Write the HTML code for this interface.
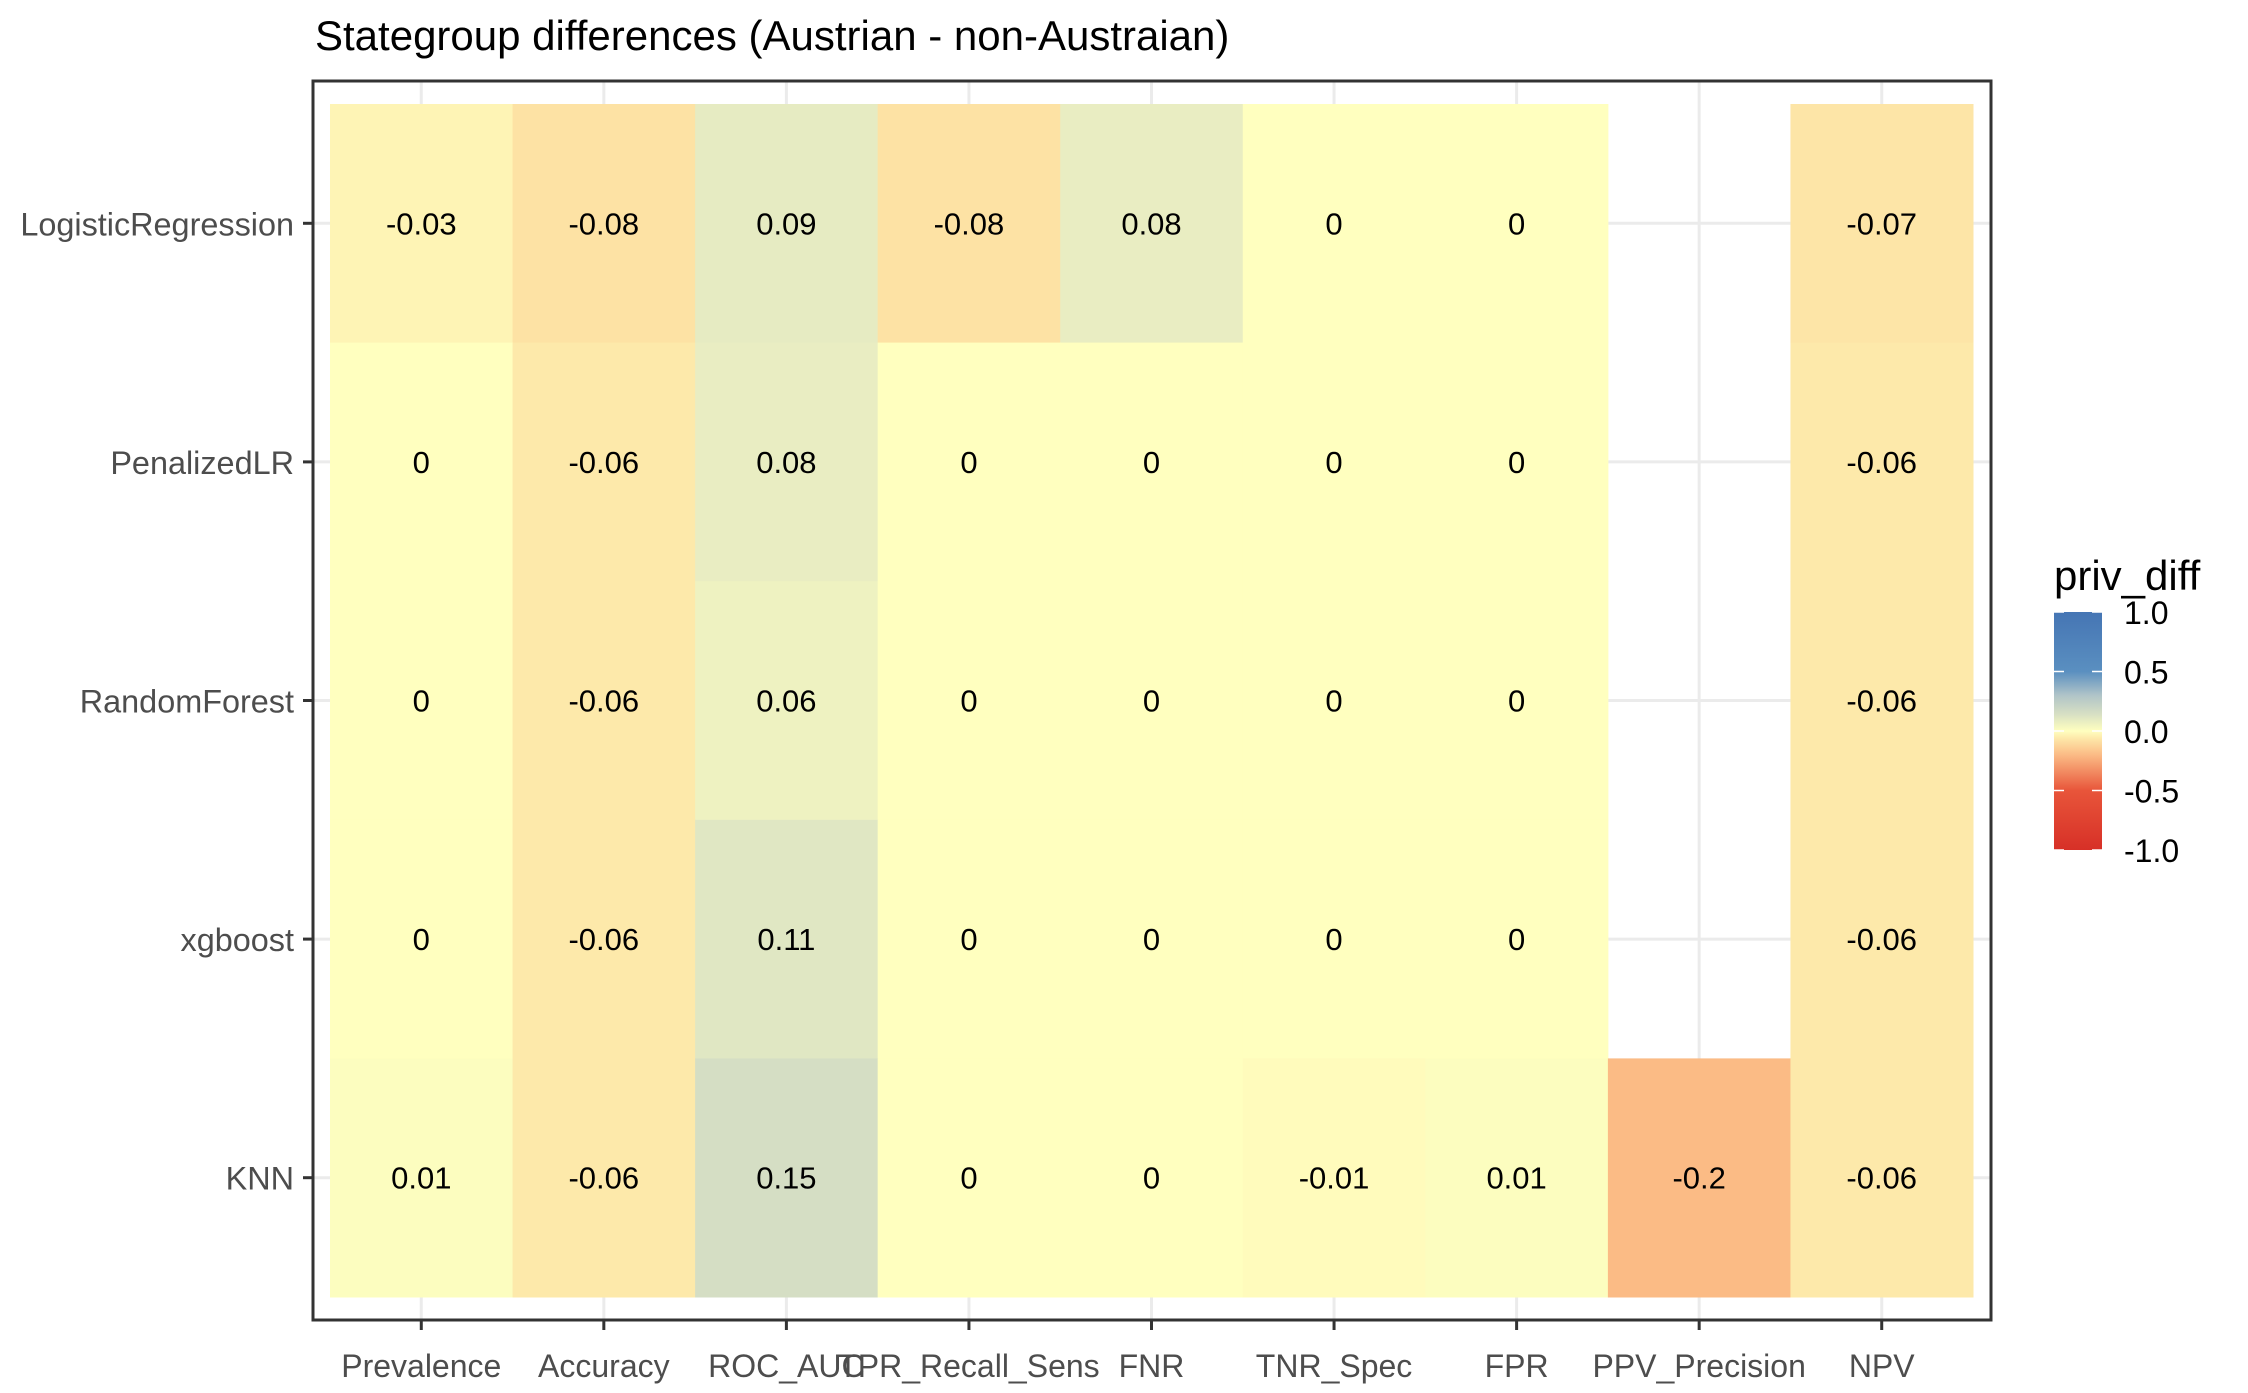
<!DOCTYPE html>
<html><head><meta charset="utf-8"><style>
html,body{margin:0;padding:0;background:#fff}
svg{display:block;font-family:"Liberation Sans",Arial,sans-serif}
</style></head><body>
<svg id="chart" width="2248" height="1393" viewBox="0 0 2248 1393">
<rect width="2248" height="1393" fill="#fff"/>
<text x="315" y="50" font-size="42" fill="#000">Stategroup differences (Austrian - non-Austraian)</text>
<g id="grid"></g><g id="tiles"></g><g id="labels"></g><g id="axes"></g>
<rect x="313" y="81" width="1678" height="1239" fill="none" stroke="#333" stroke-width="3"/>
<defs><linearGradient id="lg" x1="0" y1="1" x2="0" y2="0">
<stop offset="0" stop-color="#d73027"/><stop offset="0.25" stop-color="#e8553a"/><stop offset="0.4" stop-color="#fbbb85"/><stop offset="0.465" stop-color="#fde5a7"/><stop offset="0.5" stop-color="#ffffbf"/><stop offset="0.575" stop-color="#d5dec4"/><stop offset="0.65" stop-color="#b0c4c8"/><stop offset="0.75" stop-color="#5a8fc0"/><stop offset="1" stop-color="#4575b4"/>
</linearGradient></defs>
<g>
<text x="2054" y="590" font-size="42" fill="#000">priv_diff</text>
<rect x="2054" y="612" width="48" height="238" fill="url(#lg)"/>
<g id="legendticks"></g>
</g>
</svg>
<script>
const categories = ["Prevalence","Accuracy","ROC_AUC","TPR_Recall_Sens","FNR","TNR_Spec","FPR","PPV_Precision","NPV"];
const models = ["LogisticRegression","PenalizedLR","RandomForest","xgboost","KNN"];
const rowLR   = [-0.03,-0.08,0.09,-0.08,0.08,0,0,null,-0.07];
const rowPLR  = [0,-0.06,0.08,0,0,0,0,null,-0.06];
const rowRF   = [0,-0.06,0.06,0,0,0,0,null,-0.06];
const rowXGB  = [0,-0.06,0.11,0,0,0,0,null,-0.06];
const rowKNN  = [0.01,-0.06,0.15,0,0,-0.01,0.01,-0.2,-0.06];
const legendTicks = ["1.0","0.5","0.0","-0.5","-1.0"];
const legendTickValues = [1,0.5,0,-0.5,-1];
const rows=[rowLR,rowPLR,rowRF,rowXGB,rowKNN];
const NS="http://www.w3.org/2000/svg";
const X0=330,X1=1973,Y0=104,Y1=1297;
const cw=(X1-X0)/categories.length, ch=(Y1-Y0)/models.length;
const xC=i=>X0+cw*(i+0.5), yC=j=>Y0+ch*(j+0.5);
const stops=[[-1,[215,48,39]],[-0.5,[232,85,58]],[-0.2,[251,187,133]],[-0.07,[253,229,167]],[0,[255,255,191]],[0.15,[213,222,196]],[0.3,[176,196,200]],[0.5,[90,143,192]],[1,[69,117,180]]];
function color(v){for(let k=0;k<stops.length-1;k++){const a=stops[k],b=stops[k+1];if(v>=a[0]&&v<=b[0]){const t=(v-a[0])/(b[0]-a[0]);const c=a[1].map((x,i)=>Math.round(x+(b[1][i]-x)*t));return `rgb(${c})`;}}return v<0?"rgb(215,48,39)":"rgb(69,117,180)";}
function mk(t,a,p){const e=document.createElementNS(NS,t);for(const k in a)e.setAttribute(k,a[k]);p.appendChild(e);return e;}
const grid=document.getElementById('grid'),tiles=document.getElementById('tiles'),labels=document.getElementById('labels'),axes=document.getElementById('axes');
categories.forEach((c,i)=>{const l=mk('line',{x1:xC(i),x2:xC(i),y1:81,y2:1320,stroke:'#ebebeb','stroke-width':3},grid);


const tk=mk('line',{x1:xC(i),x2:xC(i),y1:1320,y2:1330,stroke:'#333','stroke-width':3},axes);


const t=mk('text',{x:xC(i),y:1377,'text-anchor':'middle','font-size':32,fill:'#4d4d4d'},axes);t.textContent=c;

});
models.forEach((m,j)=>{const l=mk('line',{x1:313,x2:1991,y1:yC(j),y2:yC(j),stroke:'#ebebeb','stroke-width':3},grid);


const tk=mk('line',{x1:303,x2:313,y1:yC(j),y2:yC(j),stroke:'#333','stroke-width':3},axes);


const t=mk('text',{x:294,y:yC(j)+12,'text-anchor':'end','font-size':32.4,fill:'#4d4d4d'},axes);t.textContent=m;


rows[j].forEach((v,i)=>{if(v===null)return;
const r=mk('rect',{x:X0+cw*i,y:Y0+ch*j,width:cw+0.5,height:ch+0.5,fill:color(v)},tiles);


const tx=mk('text',{x:xC(i),y:yC(j)+11,'text-anchor':'middle','font-size':31,fill:'#000'},labels);tx.textContent=String(v);

});});
const lt=document.getElementById('legendticks');
legendTickValues.forEach((v,k)=>{const y=612+(1-v)/2*238;
const a=mk('line',{x1:2054,x2:2064,y1:y,y2:y,stroke:'#fff','stroke-width':1.5},lt);


const b=mk('line',{x1:2092,x2:2102,y1:y,y2:y,stroke:'#fff','stroke-width':1.5},lt);


const t=mk('text',{x:2124,y:y+12,'font-size':32,fill:'#000'},lt);t.textContent=legendTicks[k];

});
</script>
</body></html>
